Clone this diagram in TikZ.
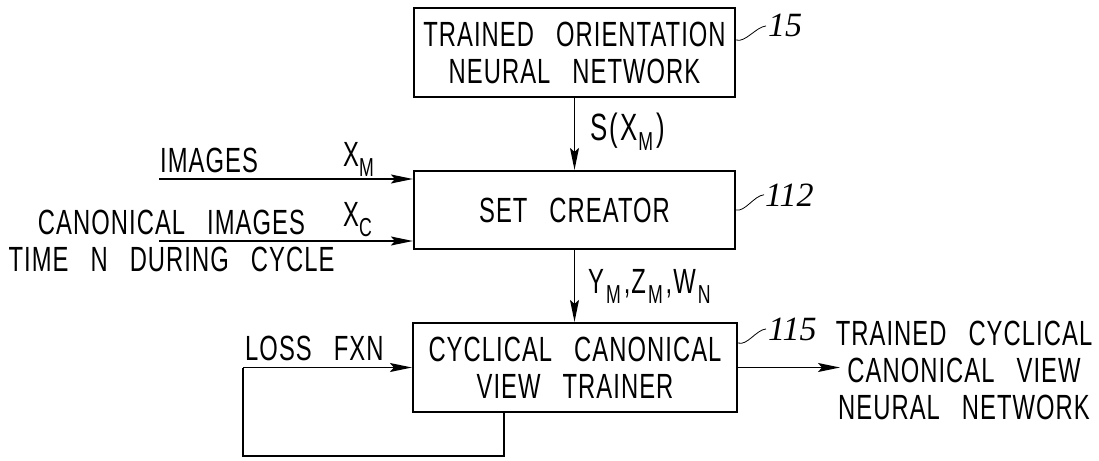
\documentclass[tikz,border=0pt]{standalone}
\usepackage{fontspec}
\setmainfont{Liberation Sans}[FakeStretch=0.68,LetterSpace=3]
\newfontfamily\refnumfont{Liberation Serif}
\usetikzlibrary{arrows.meta}

% lettering of the block diagram and lowered index letters
\newcommand\lettering{\fontsize{35}{37}\selectfont\spaceskip=22pt plus 2pt\relax}
\newcommand\lowidx[1]{\raisebox{-10pt}{\fontsize{26}{26}\selectfont #1}}

\begin{document}
\begin{tikzpicture}[x=1pt,y=-1pt,
  block/.style={draw, line width=2.2pt, inner sep=0pt, align=center, font=\lettering},
  lbl/.style={inner sep=0pt, font=\lettering},
  wire/.style={line width=1.4pt},
  arr/.style={wire, -{Stealth[length=22pt,width=9pt,inset=4pt]}},
  lead/.style={line width=0.8pt},
  refno/.style={inner sep=0pt, anchor=base west, font=\refnumfont\itshape\fontsize{34}{34}\selectfont}]
\useasboundingbox (0,0) rectangle (1099,460);

% blocks
\node[block, minimum width=321pt, minimum height=89pt] (orient) at (574.5,52.5)
  {TRAINED ORIENTATION\\NEURAL NETWORK};
\node[block, minimum width=321pt, minimum height=78pt] (setc) at (574.5,210)
  {SET CREATOR};
\node[block, minimum width=324pt, minimum height=89pt] (cyc) at (575,367.5)
  {CYCLICAL CANONICAL\\VIEW TRAINER};

% vertical flow
\draw[arr] (orient.south) -- (setc.north);
\node[lbl, anchor=base west, font=\lettering\fontsize{38}{38}\selectfont] (sxm) at (590,140)
  {S\kern2pt(\kern2pt X\kern1pt\lowidx{M}\kern3pt)};
\draw[arr] (setc.south) -- (setc.south |- cyc.north);
\node[lbl, anchor=base west] (yzw) at (588,293)
  {Y\kern2pt\lowidx{M}\kern3pt,Z\kern2pt\lowidx{M}\kern3pt,W\kern2pt\lowidx{N}};

% inputs of the set creator
\coordinate (inM) at (159,179);
\draw[arr] (inM) -- (inM -| setc.west);
\node[lbl, anchor=base west] (imgs) at (160,172) {IMAGES};
\node[lbl, anchor=base west] (xm) at (343,166) {X\lowidx{M}};

\coordinate (inC) at (159,241);
\draw[arr] (inC) -- (inC -| setc.west);
\node[lbl, anchor=north, align=center] (canon) at (171.5,210)
  {CANONICAL IMAGES\\TIME N DURING CYCLE};
\node[lbl, anchor=base west] (xc) at (343,226) {X\lowidx{C}};

% loss feedback loop
\coordinate (lossin) at (243,367.5);
\coordinate (fb) at (504,456);
\draw[arr] (lossin) -- (cyc.west);
\draw[wire] (cyc.south -| fb) -- (fb) -| (lossin);
\node[lbl, anchor=base west] (loss) at (245,360) {LOSS FXN};

% output
\coordinate (outend) at (840,367.5);
\draw[arr] (cyc.east) -- (outend);
\node[lbl, anchor=north, align=center] (outtxt) at (964,321)
  {TRAINED CYCLICAL\\CANONICAL VIEW\\NEURAL NETWORK};

% reference numerals with leader lines
\node[refno] (n15) at (768,37) {15};
\node[refno] (n112) at (765,206) {112};
\node[refno] (n115) at (768,340) {115};
\draw[lead] ([yshift=12.5pt]orient.east) .. controls +(9,3) and +(-10,1) .. ([xshift=-2pt]n15.west);
\draw[lead] (setc.east) .. controls +(9,2) and +(-10,1) .. ([xshift=-1pt]n112.west);
\draw[lead] ([yshift=24.5pt]cyc.east) .. controls +(9,3) and +(-10,1) .. ([xshift=-2pt]n115.west);
\end{tikzpicture}
\end{document}
